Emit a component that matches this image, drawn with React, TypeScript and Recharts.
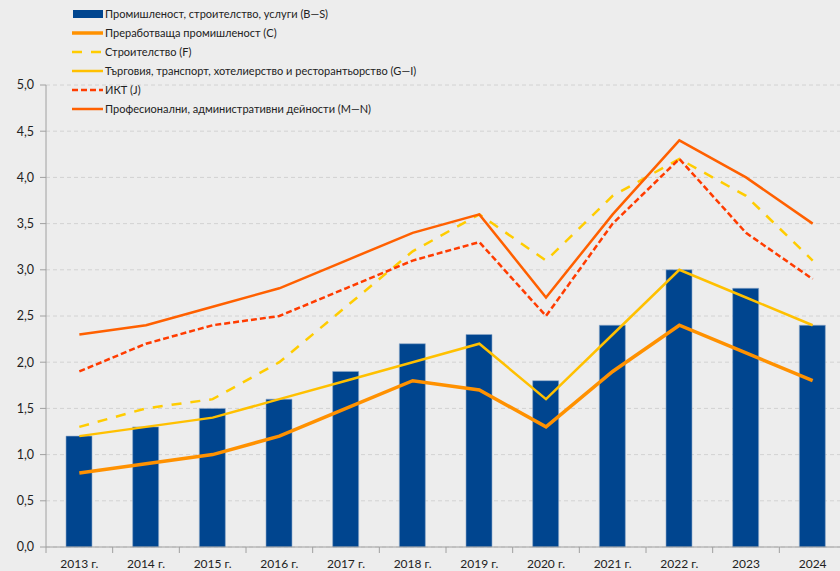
import React from "react";
import {
  ComposedChart,
  Bar,
  Line,
  XAxis,
  YAxis,
  CartesianGrid,
} from "recharts";

const years = [
  "2013 г.", "2014 г.", "2015 г.", "2016 г.", "2017 г.", "2018 г.",
  "2019 г.", "2020 г.", "2021 г.", "2022 г.", "2023", "2024",
];

// Промишленост, строителство, услуги (B—S)
const totalBS = [1.2, 1.3, 1.5, 1.6, 1.9, 2.2, 2.3, 1.8, 2.4, 3.0, 2.8, 2.4];
// Преработваща промишленост (C)
const manufacturing = [0.8, 0.9, 1.0, 1.2, 1.5, 1.8, 1.7, 1.3, 1.9, 2.4, 2.1, 1.8];
// Строителство (F)
const construction = [1.3, 1.5, 1.6, 2.0, 2.6, 3.2, 3.6, 3.1, 3.8, 4.2, 3.8, 3.1];
// Търговия, транспорт, ... (G—I)
const trade = [1.2, 1.3, 1.4, 1.6, 1.8, 2.0, 2.2, 1.6, 2.3, 3.0, 2.7, 2.4];
// ИКТ (J)
const ict = [1.9, 2.2, 2.4, 2.5, 2.8, 3.1, 3.3, 2.5, 3.5, 4.2, 3.4, 2.9];
// Професионални, административни дейности (M—N)
const professional = [2.3, 2.4, 2.6, 2.8, 3.1, 3.4, 3.6, 2.7, 3.6, 4.4, 4.0, 3.5];

const yTicks = [0, 0.5, 1, 1.5, 2, 2.5, 3, 3.5, 4, 4.5, 5];

const data = years.map((year, i) => ({
  year,
  totalBS: totalBS[i],
  manufacturing: manufacturing[i],
  construction: construction[i],
  trade: trade[i],
  ict: ict[i],
  professional: professional[i],
}));

const FONT = "Lato, 'Open Sans', sans-serif";

const legendItems = [
  { label: "Промишленост, строителство, услуги (B—S)", kind: "bar", color: "#00458F" },
  { label: "Преработваща промишленост (C)", kind: "line", color: "#FF9100", width: 3.5 },
  { label: "Строителство (F)", kind: "dash", color: "#FFCC00", width: 2.5, dash: "10 9" },
  { label: "Търговия, транспорт, хотелиерство и ресторантьорство (G—I)", kind: "line", color: "#FFC000", width: 2.5 },
  { label: "ИКТ (J)", kind: "dash", color: "#FF3C00", width: 2.5, dash: "6 3" },
  { label: "Професионални, административни дейности (M—N)", kind: "line", color: "#FF6000", width: 2.5 },
];

const LegendBox = () => (
  <div
    style={{
      position: "absolute",
      left: 72,
      top: 4,
      fontFamily: FONT,
      fontSize: 11,
      color: "#222",
      zIndex: 2,
    }}
  >
    {legendItems.map((it) => (
      <div key={it.label} style={{ display: "flex", alignItems: "center", height: 19 }}>
        <svg width={32} height={10} style={{ marginRight: 1 }}>
          {it.kind === "bar" ? (
            <rect x={1} y={1} width={30} height={8} fill={it.color} />
          ) : (
            <line
              x1={0}
              y1={5}
              x2={31}
              y2={5}
              stroke={it.color}
              strokeWidth={it.width}
              strokeDasharray={it.kind === "dash" ? it.dash : undefined}
            />
          )}
        </svg>
        <span>{it.label}</span>
      </div>
    ))}
  </div>
);

const XTick = (props: any) => {
  const { x, y, payload } = props;
  const half = 800 / 12 / 2;
  return (
    <g>
      <line x1={x - half} y1={y - 8} x2={x - half} y2={y - 2} stroke="#A0A0A0" />
      <text x={x} y={y + 13} textAnchor="middle" fill="#222" fontSize={12} fontFamily={FONT}>
        {payload.value}
      </text>
    </g>
  );
};

const App = () => {
  return (
    <div
      style={{
        position: "fixed",
        left: 0,
        top: 0,
        width: 840,
        height: 571,
        overflow: "hidden",
        background: "#EDEDED",
      }}
    >
      <ComposedChart
        width={860}
        height={571}
        data={data}
        margin={{ top: 85, right: 14, left: 0, bottom: 2 }}
      >
        <CartesianGrid vertical={false} stroke="#D2D2D2" strokeDasharray="4 3" />
        <XAxis
          dataKey="year"
          height={22}
          tick={<XTick />}
          tickLine={false}
          axisLine={{ stroke: "#A0A0A0" }}
          interval={0}
        />
        <YAxis
          domain={[0, 5]}
          ticks={yTicks}
          width={46}
          tickSize={6}
          tickMargin={6}
          tickLine={{ stroke: "#A0A0A0" }}
          axisLine={{ stroke: "#A0A0A0" }}
          tickFormatter={(v: number) => v.toFixed(1).replace(".", ",")}
          tick={{ fill: "#222", fontSize: 12.5, fontFamily: FONT }}
        />
        <Bar
          dataKey="totalBS"
          barSize={26}
          fill="#00458F"
          stroke="#8FA9C9"
          strokeWidth={0.6}
          isAnimationActive={false}
        />
        <Line
          dataKey="manufacturing"
          stroke="#FF9100"
          strokeWidth={3.5}
          dot={false}
          type="linear"
          isAnimationActive={false}
        />
        <Line
          dataKey="construction"
          stroke="#FFCC00"
          strokeWidth={2.5}
          strokeDasharray="10 9"
          dot={false}
          type="linear"
          isAnimationActive={false}
        />
        <Line
          dataKey="trade"
          stroke="#FFC000"
          strokeWidth={2.5}
          dot={false}
          type="linear"
          isAnimationActive={false}
        />
        <Line
          dataKey="ict"
          stroke="#FF3C00"
          strokeWidth={2.5}
          strokeDasharray="6 3"
          dot={false}
          type="linear"
          isAnimationActive={false}
        />
        <Line
          dataKey="professional"
          stroke="#FF6000"
          strokeWidth={2.5}
          dot={false}
          type="linear"
          isAnimationActive={false}
        />
      </ComposedChart>
      <LegendBox />
    </div>
  );
};

export default App;
